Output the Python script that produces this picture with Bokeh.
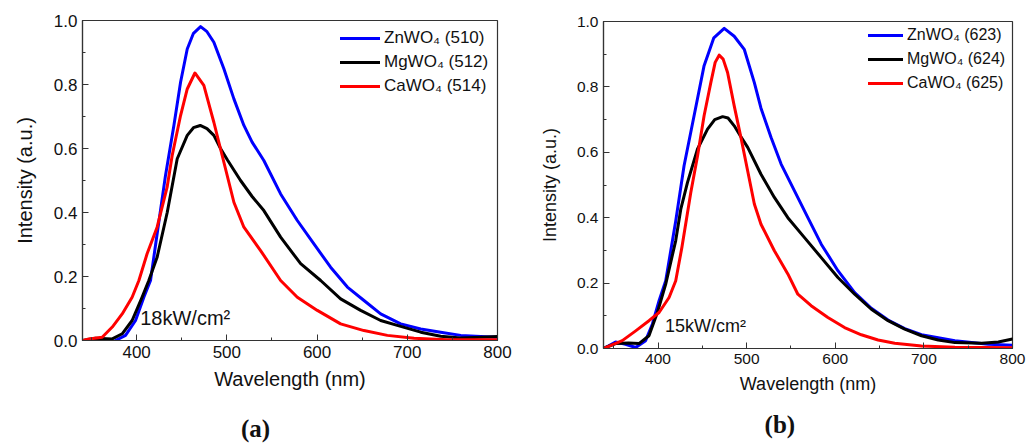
from bokeh.plotting import figure
from bokeh.layouts import row, column
from bokeh.models import (Range1d, SingleIntervalTicker, Legend, LegendItem, Label, LinearAxis,
                          FixedTicker, CustomJSTickFormatter)
from bokeh.embed import file_html
from bokeh.resources import INLINE

# ---------------- Panel (a): 18 kW/cm2 ----------------
a_zn_x = [376.6, 387.7, 398.8, 408, 415.4, 422.7, 432, 441.3, 448.7, 456.1, 463, 470.9, 478, 485.6, 496.7, 507.8,
          518.9, 528, 541, 559.6, 578.1, 596.5, 615, 633.6, 652, 670.5, 692.7, 714.9, 737, 759.2, 781.4, 800]
a_zn_y = [0.0, 0.016, 0.0625, 0.135, 0.1875, 0.333, 0.516, 0.672, 0.807, 0.911, 0.96, 0.981, 0.965, 0.932, 0.849, 0.755,
          0.672, 0.62, 0.5625, 0.458, 0.375, 0.302, 0.229, 0.167, 0.125, 0.083, 0.052, 0.036, 0.026, 0.016, 0.0125, 0.010]

a_mg_x = [340, 354.4, 373, 384, 395, 406, 413.5, 422.7, 433.9, 445, 456.1, 463, 470.5, 478, 485.6, 493, 500.5,
          515.2, 528, 541, 559.6, 581.8, 604, 626.1, 648.3, 670.5, 692.7, 714.9, 737, 759.2, 781.4, 800]
a_mg_y = [0.0, 0.007, 0.005, 0.021, 0.0625, 0.135, 0.1875, 0.26, 0.40, 0.568, 0.641, 0.665, 0.672, 0.662, 0.641, 0.60, 0.565,
          0.50, 0.45, 0.406, 0.323, 0.24, 0.1875, 0.130, 0.094, 0.0625, 0.044, 0.026, 0.013, 0.008, 0.010, 0.0125]

a_ca_x = [341, 347, 361.8, 373, 384, 395, 402.5, 411.6, 422.7, 433.8, 439.4, 448.7, 456.1, 464.6, 474.5, 482,
          485.6, 496.7, 507.8, 518.9, 537.4, 559.6, 578.1, 600.3, 626.1, 652, 677.9, 707.5, 744.5, 800]
a_ca_y = [0.0, 0.005, 0.010, 0.042, 0.083, 0.135, 0.1875, 0.271, 0.354, 0.479, 0.578, 0.703, 0.786, 0.836, 0.797, 0.719,
          0.682, 0.557, 0.432, 0.354, 0.281, 0.1875, 0.135, 0.094, 0.052, 0.031, 0.016, 0.007, 0.002, 0.002]

# ---------------- Panel (b): 15 kW/cm2 ----------------
b_zn_x = [340.8, 352.1, 363.4, 374.8, 386, 393.7, 401.2, 408.7, 420, 429.4, 440.7, 452, 463, 474.7, 486, 497.3,
          508.7, 516.2, 527.6, 538.9, 554, 569.1, 584.2, 603, 621.9, 640.7, 659.6, 678.4, 697.3, 735, 772.8, 800]
b_zn_y = [0.003, 0.02, 0.013, 0.003, 0.024, 0.075, 0.146, 0.207, 0.39, 0.559, 0.712, 0.865, 0.95, 0.979, 0.955, 0.915,
          0.813, 0.735, 0.645, 0.564, 0.482, 0.40, 0.319, 0.238, 0.171, 0.123, 0.087, 0.061, 0.042, 0.024, 0.013, 0.010]

b_mg_x = [340.8, 352, 366.7, 378.5, 389.8, 399.3, 408.7, 420, 425.7, 433.3, 444.6, 455.9, 464, 472.9, 479, 486, 493,
          501.2, 516.2, 531.3, 546.5, 565.3, 584.2, 603, 621.9, 640.7, 659.6, 678.4, 697.3, 716.2, 735, 765.3, 784, 800]
b_mg_y = [0.003, 0.015, 0.017, 0.015, 0.039, 0.11, 0.197, 0.33, 0.426, 0.508, 0.61, 0.671, 0.70, 0.709, 0.705, 0.681, 0.65,
          0.615, 0.533, 0.462, 0.40, 0.339, 0.278, 0.217, 0.166, 0.12, 0.085, 0.059, 0.039, 0.026, 0.018, 0.016, 0.02, 0.029]

b_ca_x = [340.8, 359.7, 374.8, 389.8, 401.2, 412.5, 420, 427, 437, 444.6, 452, 459.6, 464.5, 469, 473.5, 478.5, 486,
          493.6, 501.2, 508.7, 516.2, 531.3, 546.5, 557.8, 572.8, 591.7, 610.5, 629.4, 648.3, 667.1, 697.3, 735, 800]
b_ca_y = [0.003, 0.024, 0.054, 0.085, 0.11, 0.156, 0.207, 0.31, 0.477, 0.589, 0.712, 0.813, 0.875, 0.897, 0.885, 0.844, 0.742,
          0.645, 0.543, 0.442, 0.38, 0.299, 0.228, 0.166, 0.131, 0.095, 0.064, 0.042, 0.026, 0.016, 0.008, 0.004, 0.002]

labels_a = ["ZnWO\u2084 (510)", "MgWO\u2084 (512)", "CaWO\u2084 (514)"]
labels_b = ["ZnWO\u2084 (623)", "MgWO\u2084 (624)", "CaWO\u2084 (625)"]
colors = ["#0000ff", "#000000", "#ff0000"]

FONT = "Liberation Sans"
INK = "#111111"
NBSP = "\u00a0"


def make_panel(width, height, bl, br, bt, bb, xstart, series, labels, leg_xy,
               power, power_xy, tag, tag_standoff, tick_fs, label_fs, leg_fs, glyph_w, ylab_standoff):
    p = figure(width=width, height=height, output_backend="svg", toolbar_location=None,
               x_range=Range1d(xstart, 800), y_range=Range1d(0, 1.0),
               min_border_left=bl, min_border_right=br, min_border_top=bt, min_border_bottom=bb)
    p.grid.visible = False
    p.outline_line_color = "#333333"
    p.outline_line_width = 1.2
    p.background_fill_color = None
    p.border_fill_color = None
    p.xaxis.ticker = SingleIntervalTicker(interval=100, num_minor_ticks=2)
    p.yaxis.ticker = SingleIntervalTicker(interval=0.2, num_minor_ticks=2)
    p.yaxis.formatter = CustomJSTickFormatter(code="return tick.toFixed(1);")
    for ax in (p.xaxis, p.yaxis):
        ax.major_tick_in = 6
        ax.major_tick_out = 0
        ax.minor_tick_in = 3
        ax.minor_tick_out = 0
        ax.axis_line_color = "#333333"
        ax.axis_line_width = 1.2
        ax.major_tick_line_color = "#333333"
        ax.minor_tick_line_color = "#333333"
        ax.major_label_text_font = FONT
        ax.major_label_text_font_size = tick_fs
        ax.major_label_text_color = INK
        ax.axis_label_text_font = FONT
        ax.axis_label_text_font_size = label_fs
        ax.axis_label_text_font_style = "normal"
        ax.axis_label_text_color = INK
        ax.major_label_standoff = 5
    p.xaxis.axis_label = "Wavelength (nm)"
    p.yaxis.axis_label = "Intensity (a.u.)"
    p.xaxis.axis_label_standoff = 7
    p.yaxis.axis_label_standoff = ylab_standoff

    # panel tag "(a)" / "(b)" as the label of a tick-less axis below the x axis
    tag_axis = LinearAxis(ticker=FixedTicker(ticks=[]), axis_label=tag, axis_line_color=None,
                          major_tick_line_color=None, minor_tick_line_color=None,
                          major_label_standoff=0, axis_label_standoff=tag_standoff,
                          axis_label_text_font="Liberation Serif", axis_label_text_font_style="bold",
                          axis_label_text_font_size="25px", axis_label_text_color=INK)
    p.add_layout(tag_axis, "below")

    items = []
    for (xs, ys), lab, col in zip(series, labels, colors):
        r = p.line(xs, ys, line_color=col, line_width=3, line_join="round", line_cap="round")
        items.append(LegendItem(label=lab, renderers=[r]))
    leg = Legend(items=items, location=leg_xy, border_line_alpha=0, background_fill_alpha=0,
                 glyph_width=glyph_w, glyph_height=22, label_height=22, spacing=2, padding=6, margin=0,
                 label_text_font=FONT, label_text_font_size=leg_fs, label_standoff=4,
                 label_text_color=INK)
    p.add_layout(leg)

    p.add_layout(Label(x=power_xy[0], y=power_xy[1], text=power, text_font=FONT, text_font_size=label_fs,
                       text_baseline="middle", text_align="left", text_color=INK))
    return p


pa = make_panel(515, 446, 82, 18, 20, 106, 340,
                [(a_zn_x, a_zn_y), (a_mg_x, a_mg_y), (a_ca_x, a_ca_y)], labels_a, (252, 237),
                "18kW/cm\u00b2", (404, 0.07), "(a)" + NBSP * 11, 22,
                "17px", "20px", "17px", 40, 15)
pb = make_panel(520, 446, 88, 23, 21, 98, 338.5,
                [(b_zn_x, b_zn_y), (b_mg_x, b_mg_y), (b_ca_x, b_ca_y)], labels_b, (259, 248),
                "15kW/cm\u00b2", (408, 0.07), "(b)" + NBSP * 9, 14,
                "15.5px", "18px", "16px", 35, 14)

layout = row(column(pa), column(pb), spacing=0)
open("out.html", "w").write(file_html(layout, INLINE))
